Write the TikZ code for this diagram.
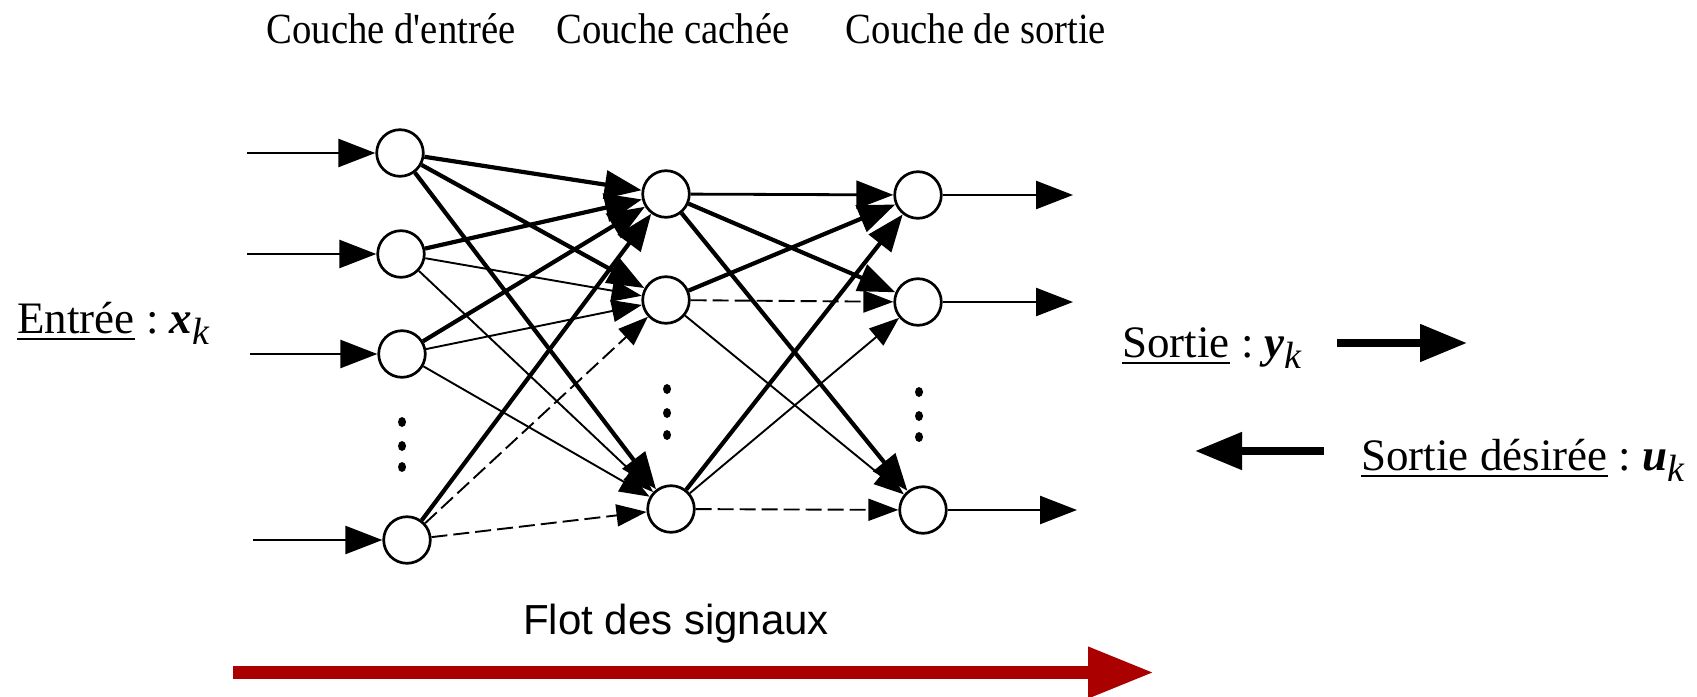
\documentclass[tikz,border=0pt]{standalone}
\usepackage{fontspec}
\setmainfont{Liberation Serif}
\newfontfamily\narrowserif{Liberation Serif}[FakeStretch=0.9]
\newfontfamily\flowsans{Liberation Sans}
\usetikzlibrary{arrows.meta}
\definecolor{flowred}{HTML}{AA0000}

% underline drawn as a rule a little below the baseline
\newcommand\ulined[1]{\setbox0\hbox{#1}\rlap{\rule[-3.5pt]{\wd0}{0.9pt}}\box0}
% subscript k, lowered
\newcommand\subk{\raisebox{-5.5pt}{\fontsize{19pt}{21pt}\selectfont\itshape k}}

\begin{document}
\begin{tikzpicture}[x=0.5pt,y=-0.5pt,
  neuron/.style={circle,draw,line width=1.35pt,minimum size=23.3pt,inner sep=0pt,fill=white},
  bigtip/.style={-{Triangle[length=18.5pt,width=14pt]}},
  smalltip/.style={-{Triangle[length=15pt,width=11pt]}},
  strong/.style={bigtip,line width=2.1pt},
  medium/.style={bigtip,line width=1.4pt},
  weak/.style={smalltip,line width=0.95pt},
  weakdash/.style={smalltip,line width=0.95pt,dash pattern=on 8pt off 3pt},
  ioarrow/.style={bigtip,line width=1.25pt},
  sidearrow/.style={line width=4pt,-{Triangle[length=23.5pt,width=18pt]}},
  layerlabel/.style={anchor=base,inner sep=0pt,font=\narrowserif\fontsize{21.5pt}{24pt}\selectfont},
  sidelabel/.style={anchor=base west,inner sep=0pt,font=\fontsize{22.5pt}{26pt}\selectfont}
]
\useasboundingbox (0,0) rectangle (1697,696);

% layer titles
\node[layerlabel] (tin)  at (391,43) {Couche d'entrée};
\node[layerlabel] (thid) at (673,43) {Couche cachée};
\node[layerlabel] (tout) at (976,43) {Couche de sortie};

% neurons
\node[neuron] (i1) at (400,153) {};
\node[neuron] (i2) at (401,254) {};
\node[neuron] (i3) at (402,354) {};
\node[neuron] (i4) at (407,540) {};
\node[neuron] (h1) at (666,194) {};
\node[neuron] (h2) at (666,300) {};
\node[neuron] (h3) at (671,509) {};
\node[neuron] (o1) at (918,195) {};
\node[neuron] (o2) at (918,302) {};
\node[neuron] (o3) at (923,510) {};

% vertical ellipsis in each layer
\foreach \x/\ya/\yb/\yc in {402/422/446/467, 667/389/413/435, 919/392/416/437} {
  \fill (\x,\ya) ellipse [x radius=2pt, y radius=2.5pt];
  \fill (\x,\yb) ellipse [x radius=2pt, y radius=2.5pt];
  \fill (\x,\yc) ellipse [x radius=2pt, y radius=2.5pt];
}

% inputs
\coordinate (x1) at (247,153);
\coordinate (x2) at (247,254);
\coordinate (x3) at (250,354);
\coordinate (x4) at (253,540);
\foreach \k in {1,2,3,4} \draw[ioarrow] (x\k) -- (i\k);

% outputs
\coordinate (y1) at (1073,195);
\coordinate (y2) at (1073,302);
\coordinate (y3) at (1077,510);
\foreach \k in {1,2,3} \draw[ioarrow] (o\k) -- (y\k);

% input layer -> hidden layer
\draw[strong] (i1) -- (h1);
\draw[strong] (i1) -- (h2);
\draw[strong] (i1) -- (h3);
\draw[strong] (i2) -- (h1);
\draw[weak] (i2) -- (h2);
\draw[weak] (i2) -- (h3);
\draw[strong] (i3) -- (h1);
\draw[weak] (i3) -- (h2);
\draw[weak] (i3) -- (h3);
\draw[strong] (i4) -- (h1);
\draw[weakdash] (i4) -- (h2);
\draw[weakdash] (i4) -- (h3);

% hidden layer -> output layer
\draw[medium] (h1) -- (o1);
\draw[strong] (h1) -- (o2);
\draw[strong] (h1) -- (o3);
\draw[strong] (h2) -- (o1);
\draw[weakdash] (h2) -- (o2);
\draw[weak] (h2) -- (o3);
\draw[strong] (h3) -- (o1);
\draw[weak] (h3) -- (o2);
\draw[weakdash] (h3) -- (o3);

% side labels
\node[sidelabel] (lin) at (17,333) {\ulined{Entrée}\ :\ {\bfseries\itshape x}\subk};
\node[sidelabel] (lout) at (1122,357) {\ulined{Sortie}\ :\ {\bfseries\itshape y}\subk};
\node[sidelabel] (ldes) at (1361,470) {\ulined{Sortie désirée}\ :\ {\bfseries\itshape u}\subk};

\coordinate (ya) at (1337,343);
\coordinate (yb) at (1467,343);
\draw[sidearrow] (ya) -- (yb);
\coordinate (ua) at (1324,451);
\coordinate (ub) at (1195,451);
\draw[sidearrow] (ua) -- (ub);

% signal flow
\node[anchor=base,inner sep=0pt,font=\flowsans\fontsize{21pt}{24pt}\selectfont] (flow) at (676,634) {Flot des signaux};
\coordinate (fa) at (233,672.5);
\coordinate (fb) at (1154,672.5);
\draw[flowred,line width=6.6pt,-{Triangle[length=33pt,width=24pt]}] (fa) -- (fb);
\end{tikzpicture}
\end{document}
